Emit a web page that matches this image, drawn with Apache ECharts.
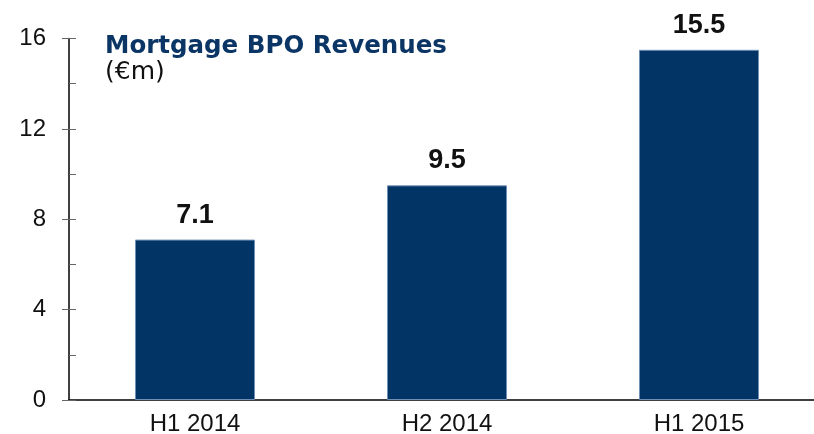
<!DOCTYPE html>
<html>
<head>
<meta charset="utf-8">
<script src="https://cdn.jsdelivr.net/npm/echarts@6/dist/echarts.min.js"></script>
<style>
  html, body { margin: 0; padding: 0; background: #fff; }
  #chart { width: 814px; height: 434px; }
</style>
</head>
<body>
<div id="chart"></div>
<script>
var categories = ['H1 2014', 'H2 2014', 'H1 2015'];
var revenues = [7.1, 9.5, 15.5];
var yTicks = { min: 0, max: 16, interval: 4 };

var chart = echarts.init(document.getElementById('chart'));

var option = {
  animation: false,
  title: {
    text: 'Mortgage BPO Revenues',
    subtext: '(€m)',
    left: 100,
    top: 29,
    itemGap: 1,
    textStyle: {
      color: '#0a3565',
      fontSize: 24.5,
      fontWeight: 'bold',
      fontFamily: 'DejaVu Sans'
    },
    subtextStyle: {
      color: '#111',
      fontSize: 25,
      fontFamily: 'DejaVu Sans'
    }
  },
  grid: {
    left: 69,
    top: 38.5,
    width: 756,
    bottom: 34,
    outerBoundsMode: 'none'
  },
  xAxis: {
    type: 'category',
    data: categories,
    axisLine: { lineStyle: { color: '#000', width: 1.5 } },
    axisTick: { show: false },
    axisLabel: {
      color: '#111',
      fontSize: 24,
      margin: 12,
      fontFamily: 'Liberation Sans'
    }
  },
  yAxis: [
    {
      type: 'value',
      min: yTicks.min,
      max: yTicks.max,
      interval: yTicks.interval,
      splitLine: { show: false },
      axisLine: { show: true, lineStyle: { color: '#000', width: 1.5 } },
      axisTick: { show: true, length: 7, lineStyle: { color: '#666' } },
      axisLabel: {
        color: '#111',
        fontSize: 24,
        margin: 23,
        fontFamily: 'Liberation Sans'
      }
    },
    {
      type: 'value',
      position: 'left',
      min: yTicks.min,
      max: yTicks.max,
      interval: yTicks.interval,
      splitLine: { show: false },
      axisLine: { show: false },
      axisLabel: { show: false },
      axisTick: { show: true, inside: true, length: 7, lineStyle: { color: '#666' } },
      minorTick: { show: true, splitNumber: 2, length: 7, lineStyle: { color: '#666' } }
    }
  ],
  series: [
    {
      name: 'Revenues',
      type: 'bar',
      data: revenues,
      barWidth: 120,
      itemStyle: {
        color: '#023466',
        borderColor: '#6f8fb5',
        borderWidth: 1
      },
      label: {
        show: true,
        position: 'top',
        distance: 11,
        color: '#111',
        fontSize: 27,
        fontWeight: 'bold',
        fontFamily: 'Liberation Sans'
      }
    }
  ]
};

chart.setOption(option);
</script>
</body>
</html>
